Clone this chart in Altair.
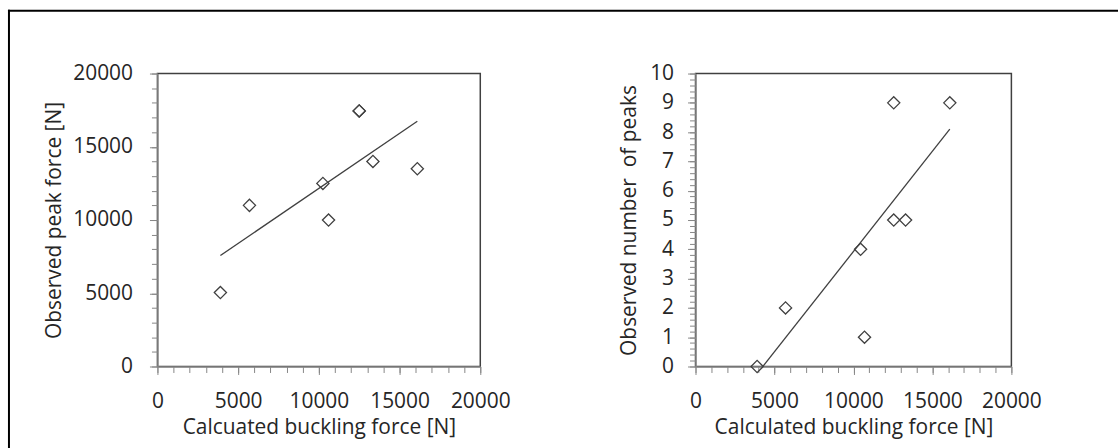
import altair as alt
import pandas as pd

# ---- data ----
# Left panel: observed peak force vs calculated buckling force
left_calc_force = [3900, 5700, 10250, 10600, 12500, 12500, 13350, 16100]
left_peak_force = [5050, 11000, 12500, 10000, 17450, 17450, 14000, 13500]

# Right panel: observed number of peaks vs calculated buckling force
right_calc_force = [3900, 5700, 10450, 10700, 12550, 12550, 13300, 16100]
right_num_peaks = [0, 2, 4, 1, 5, 9, 5, 9]

x_major_ticks = [0, 5000, 10000, 15000, 20000]
x_minor_ticks = list(range(0, 20001, 1000))
left_y_major_ticks = [0, 5000, 10000, 15000, 20000]
left_y_minor_ticks = list(range(0, 20001, 1000))
right_y_major_ticks = list(range(0, 11))
right_y_minor_ticks = [round(i * 0.2, 1) for i in range(51)]

left_x_title = "Calcuated buckling force [N]"
left_y_title = "Observed peak force [N]"
right_x_title = "Calculated buckling force [N]"
right_y_title = "Observed number\u00a0 of peaks"

FONT = "Open Sans"
AXIS_GRAY = "#878787"
TEXT = "#262626"
MARK = "#404040"
FS = 21

left_df = pd.DataFrame({"x": left_calc_force, "y": left_peak_force})
right_df = pd.DataFrame({"x": right_calc_force, "y": right_num_peaks})
one = pd.DataFrame({"a": [0]})


def major_axis(orient, title, values, label_padding, title_padding):
    return alt.Axis(
        orient=orient,
        title=title,
        values=values,
        format="d",
        tickSize=8,
        labelFlush=False,
        labelOverlap=False,
        labelPadding=label_padding,
        titlePadding=title_padding,
        grid=False,
    )


def minor_axis(orient, values):
    return alt.Axis(
        orient=orient,
        title=None,
        values=values,
        labels=False,
        tickSize=6,
        domain=False,
        grid=False,
    )


x_scale = alt.Scale(domain=[0, 20000], nice=False, zero=True)


def panel(df, x_title, y_title, y_domain, y_major, y_minor, y_label_pad, y_title_pad, w, extra=()):
    points = alt.Chart(df).mark_point(
        shape="diamond", filled=False, size=150, stroke=MARK, strokeWidth=1.3, opacity=1
    ).encode(
        x=alt.X("x:Q", scale=x_scale, axis=major_axis("bottom", x_title, x_major_ticks, 16, 5)),
        y=alt.Y("y:Q", scale=alt.Scale(domain=y_domain, nice=False),
                axis=major_axis("left", y_title, y_major, y_label_pad, y_title_pad)),
    )
    fit = alt.Chart(df).mark_line(color=MARK, strokeWidth=1.3, clip=True).transform_regression(
        "x", "y", method="linear"
    ).encode(
        x=alt.X("x:Q", axis=minor_axis("bottom", x_minor_ticks)),
        y=alt.Y("y:Q", axis=minor_axis("left", y_minor)),
    )
    return alt.layer(*extra, fit, points).resolve_axis(x="independent", y="independent").properties(
        width=w, height=294
    )


border_top = alt.Chart(one).mark_rule(color="black", strokeWidth=2, clip=False).encode(
    x=alt.value(-150), x2=alt.value(964), y=alt.value(-63)
)
border_left = alt.Chart(one).mark_rule(color="black", strokeWidth=2, clip=False).encode(
    x=alt.value(-149), y=alt.value(-64), y2=alt.value(377)
)

left = panel(left_df, left_x_title, left_y_title, [0, 20000], left_y_major_ticks, left_y_minor_ticks,
             17, 8, 324, extra=(border_top, border_left))
right = panel(right_df, right_x_title, right_y_title, [0, 10], right_y_major_ticks, right_y_minor_ticks,
              14, 10, 317)

chart = alt.hconcat(left, right, spacing=216, bounds="flush").properties(
    padding={"left": 6, "top": 7, "right": 0, "bottom": 0},
    background="white",
).configure_view(
    stroke=MARK, strokeWidth=1.5
).configure_axis(
    labelFont=FONT,
    titleFont=FONT,
    labelFontSize=FS,
    titleFontSize=FS,
    labelColor=TEXT,
    titleColor=TEXT,
    titleFontWeight="normal",
    domainColor=AXIS_GRAY,
    domainWidth=1.5,
    tickColor=AXIS_GRAY,
    tickWidth=1,
)

chart.save("out.html", embed_options={"renderer": "svg", "actions": False})
